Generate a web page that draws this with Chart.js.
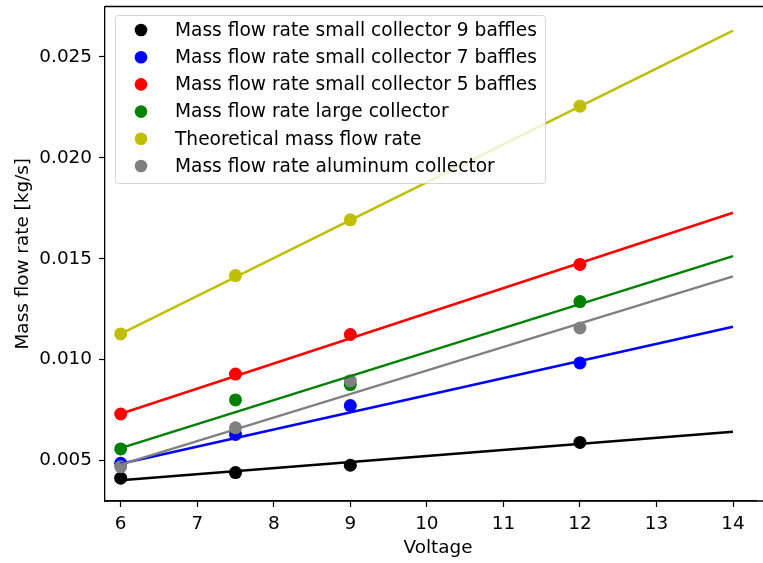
<!DOCTYPE html>
<html>
<head>
<meta charset="utf-8">
<script src="https://cdn.jsdelivr.net/npm/chart.js@4"></script>
<style>
  html, body { margin: 0; padding: 0; background: #fff; overflow: hidden; }
  canvas { position: absolute; left: 0; top: 0; }
</style>
</head>
<body>
<canvas id="myChart" width="763" height="563"></canvas>
<script>
// measured points
const voltage = [6, 7.5, 9, 12];
const flow9 = [0.00413, 0.00441, 0.00477, 0.00590];
const flow7 = [0.00487, 0.00630, 0.00773, 0.00984];
const flow5 = [0.00731, 0.00929, 0.01125, 0.01472];
const flowLarge = [0.00558, 0.00801, 0.00877, 0.01288];
const flowTheory = [0.01128, 0.01417, 0.01693, 0.02256];
const flowAlu = [0.00470, 0.00663, 0.00896, 0.01157];

// fitted lines, value at 6 V and 14 V
const fitX = [6, 14];
const fit9 = [0.00403, 0.00643];
const fit7 = [0.00485, 0.01163];
const fit5 = [0.00732, 0.01728];
const fitLarge = [0.00562, 0.01513];
const fitTheory = [0.01128, 0.02631];
const fitAlu = [0.00480, 0.01413];

const labels = [
    "Mass flow rate small collector 9 baffles",
    "Mass flow rate small collector 7 baffles",
    "Mass flow rate small collector 5 baffles",
    "Mass flow rate large collector",
    "Theoretical mass flow rate",
    "Mass flow rate aluminum collector",
];
const colors = ["#000000", "#0000ff", "#ff0000", "#008000", "#bfbf00", "#808080"];
const measured = [flow9, flow7, flow5, flowLarge, flowTheory, flowAlu];
const fits = [fit9, fit7, fit5, fitLarge, fitTheory, fitAlu];

const xTicks = [6, 7, 8, 9, 10, 11, 12, 13, 14];
const yTicks = [0.005, 0.010, 0.015, 0.020, 0.025];

const FONT = "'DejaVu Sans', sans-serif";
const FSIZE = 18.4;

const datasets = [];
measured.forEach((vals, i) => {
    datasets.push({
        type: "scatter",
        label: labels[i],
        data: voltage.map((v, j) => ({ x: v, y: vals[j] })),
        backgroundColor: colors[i],
        borderWidth: 0,
        pointRadius: 6.5,
        pointHoverRadius: 6.5,
        order: 10 + (5 - i),
    });
});
fits.forEach((vals, i) => {
    datasets.push({
        type: "line",
        label: "fit " + i,
        data: fitX.map((v, j) => ({ x: v, y: vals[j] })),
        borderColor: colors[i],
        borderWidth: 2.5,
        pointRadius: 0,
        fill: false,
        order: 5 - i,
    });
});

// no automatic label overflow padding, the plot box is fixed
function noPad(scale) {
    scale.paddingLeft = 0;
    scale.paddingRight = 0;
    scale.paddingTop = 0;
    scale.paddingBottom = 0;
}

// open right side, top spine, x title and a matplotlib-like legend inside the axes
const boxLegend = {
    id: "boxLegend",
    afterDraw(chart) {
        const ctx = chart.ctx;
        const area = chart.chartArea;
        const W = chart.width;
        ctx.save();
        // the figure is cut on the right: no right spine, axes run to the edge
        ctx.fillStyle = "#fff";
        ctx.fillRect(area.right - 3, area.top + 2, W - area.right + 3, area.bottom - area.top - 4);
        ctx.strokeStyle = "#000";
        ctx.lineWidth = 1.3;
        ctx.beginPath();
        ctx.moveTo(area.left, area.top);
        ctx.lineTo(W, area.top);
        ctx.moveTo(area.left, area.bottom);
        ctx.lineTo(W, area.bottom);
        ctx.stroke();

        ctx.fillStyle = "#000";
        ctx.font = FSIZE + "px " + FONT;
        ctx.textAlign = "center";
        ctx.textBaseline = "middle";
        ctx.fillText("Voltage", 438, 548);

        const x0 = 115.5, y0 = 15.5, w = 430, h = 168;
        ctx.globalAlpha = 0.8;
        ctx.fillStyle = "#fff";
        ctx.beginPath();
        ctx.roundRect(x0, y0, w, h, 3);
        ctx.fill();
        ctx.strokeStyle = "#cccccc";
        ctx.lineWidth = 1;
        ctx.stroke();
        ctx.globalAlpha = 1;

        ctx.font = "18.6px " + FONT;
        ctx.textAlign = "left";
        labels.forEach((txt, i) => {
            const cy = 30 + i * 27.2;
            ctx.fillStyle = colors[i];
            ctx.beginPath();
            ctx.arc(141, cy, 6.3, 0, Math.PI * 2);
            ctx.fill();
            ctx.fillStyle = "#000";
            ctx.fillText(txt, 175, cy + 1);
        });
        ctx.restore();
    },
};

const ctx = document.getElementById("myChart").getContext("2d");
const myChart = new Chart(ctx, {
    data: { datasets: datasets },
    plugins: [boxLegend],
    options: {
        responsive: false,
        animation: false,
        devicePixelRatio: 1,
        layout: { padding: { left: 0, top: 5, right: -8, bottom: 0 } },
        plugins: {
            legend: { display: false },
            tooltip: { enabled: false },
        },
        scales: {
            x: {
                type: "linear",
                min: 5.795,
                max: 14.307,
                afterBuildTicks: (scale) => { scale.ticks = xTicks.map((v) => ({ value: v })); },
                afterFit: (scale) => { scale.height = 62; noPad(scale); },
                ticks: {
                    color: "#000",
                    font: { family: FONT, size: FSIZE },
                    padding: 6,
                    maxRotation: 0,
                    autoSkip: false,
                    callback: (v) => String(v),
                },
                grid: {
                    drawOnChartArea: false,
                    drawTicks: true,
                    tickLength: 6,
                    tickColor: "#000",
                    tickWidth: 1.2,
                },
                border: { display: true, color: "#000", width: 1.3 },
                title: { display: false },
            },
            y: {
                type: "linear",
                min: 0.00300,
                max: 0.02750,
                afterBuildTicks: (scale) => { scale.ticks = yTicks.map((v) => ({ value: v })); },
                afterFit: (scale) => { scale.width = 105; noPad(scale); },
                ticks: {
                    color: "#000",
                    font: { family: FONT, size: FSIZE },
                    padding: 7,
                    autoSkip: false,
                    callback: (v) => v.toFixed(3),
                },
                grid: {
                    drawOnChartArea: false,
                    drawTicks: true,
                    tickLength: 6,
                    tickColor: "#000",
                    tickWidth: 1.2,
                },
                border: { display: true, color: "#000", width: 1.3 },
                title: {
                    display: true,
                    text: "Mass flow rate [kg/s]",
                    color: "#000",
                    font: { family: FONT, size: FSIZE },
                    padding: { top: 12, bottom: 0 },
                },
            },
        },
    },
});
</script>
</body>
</html>
